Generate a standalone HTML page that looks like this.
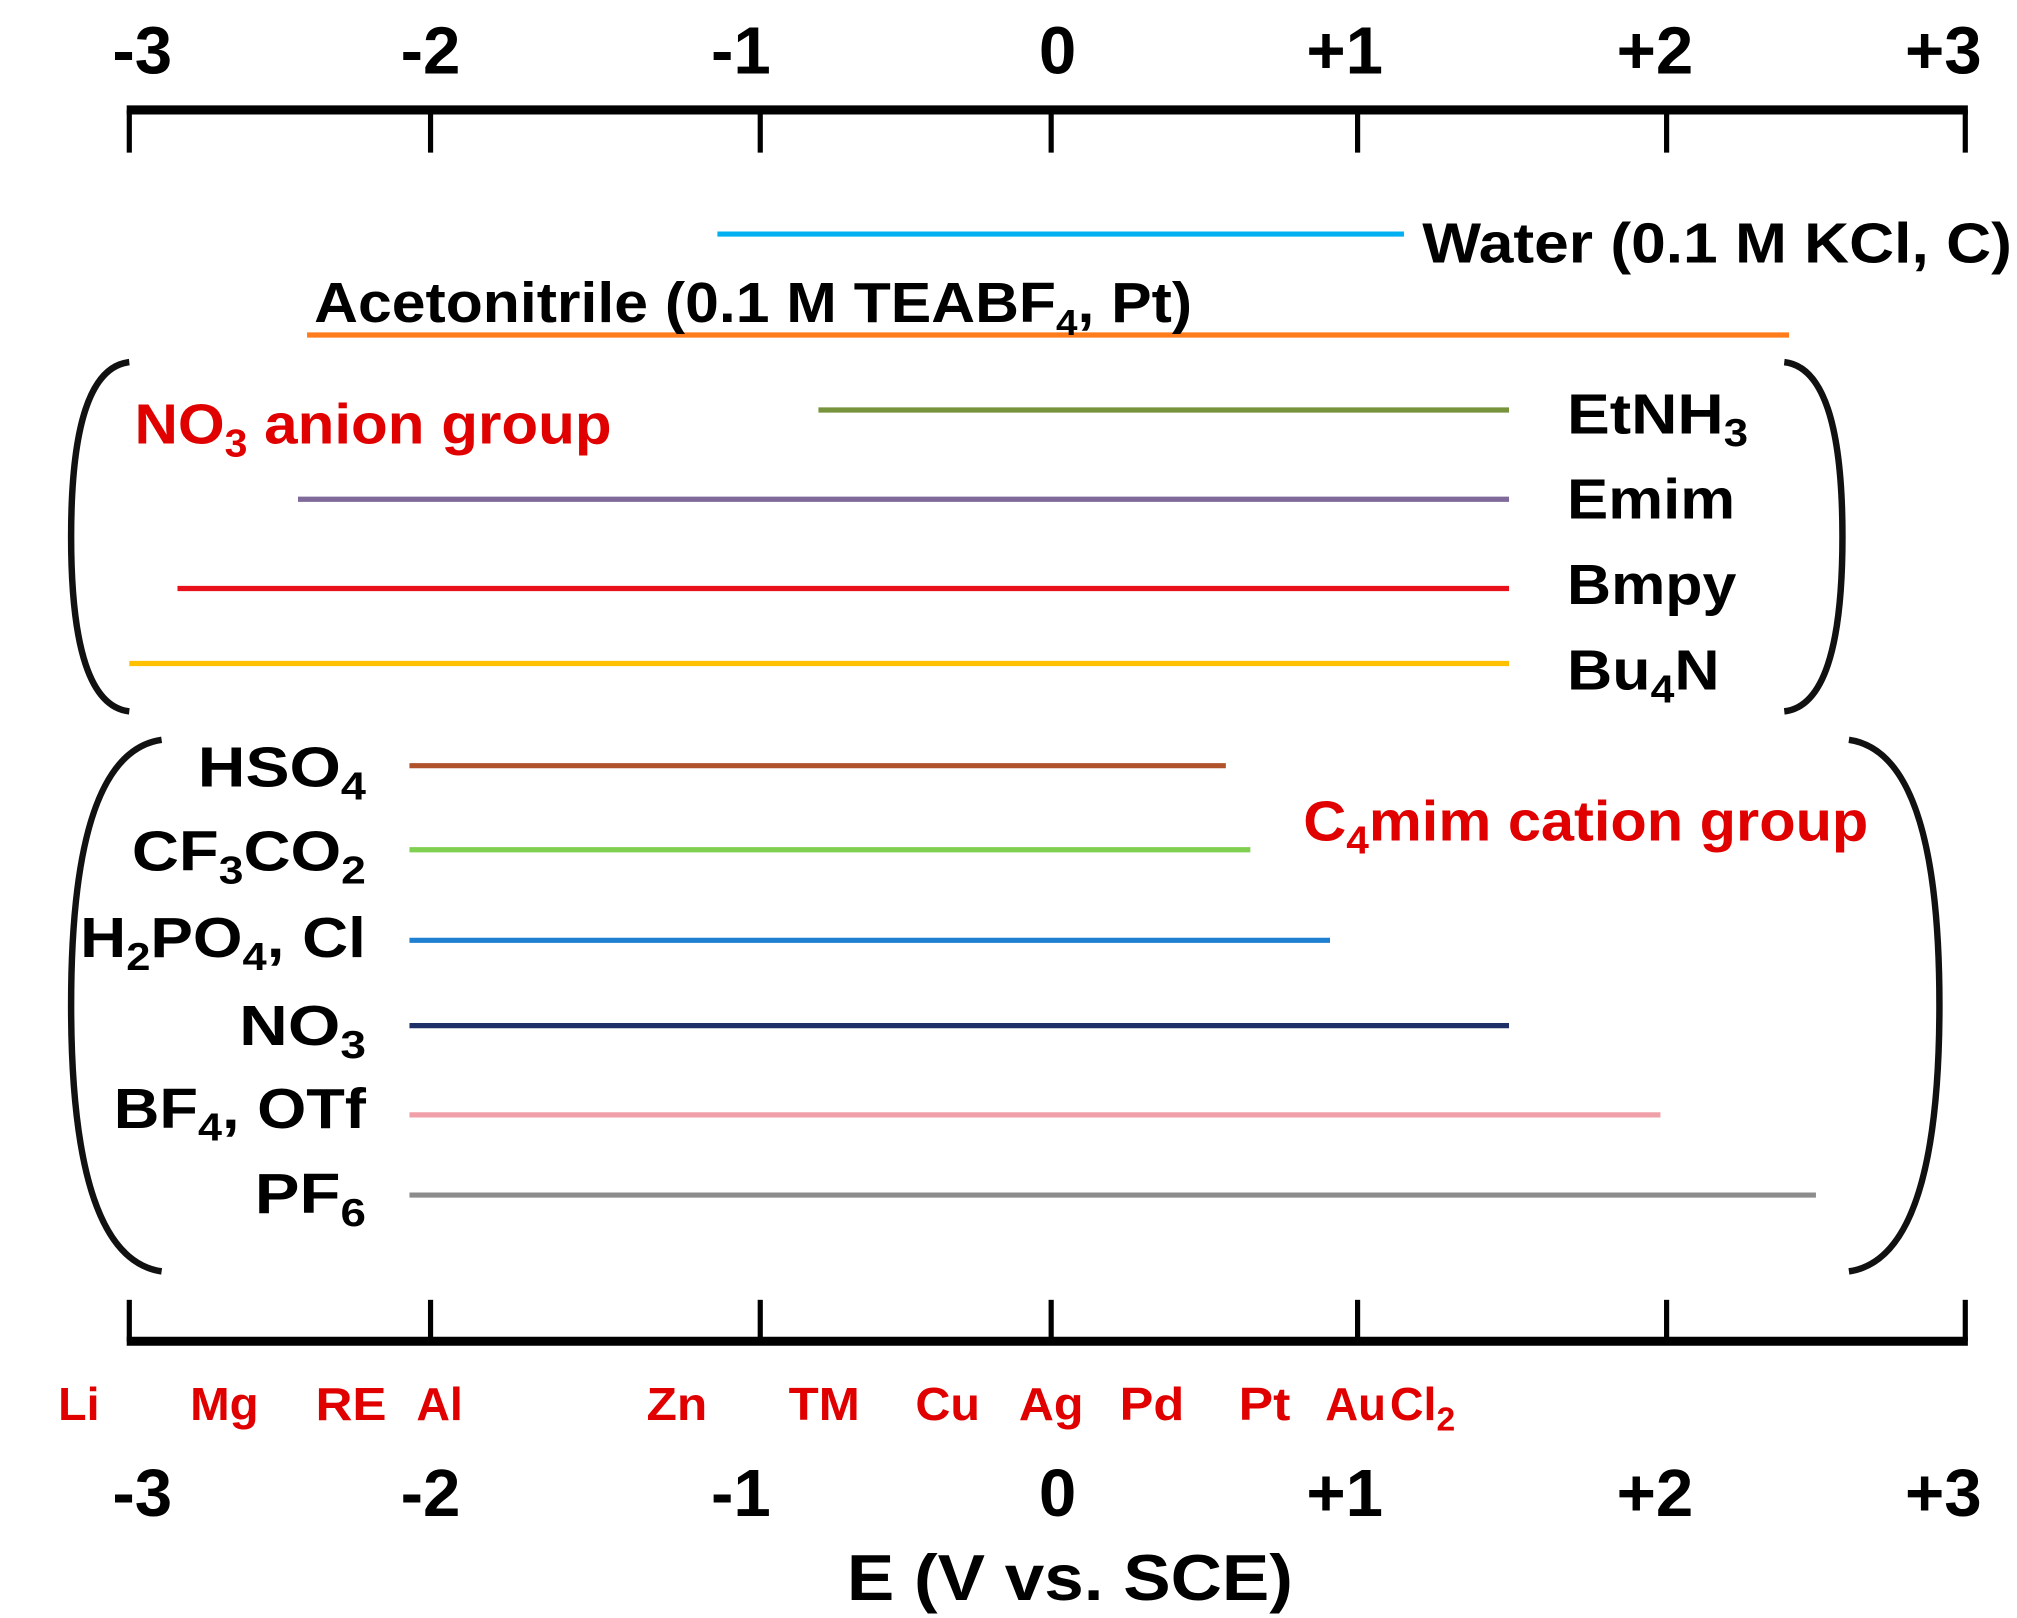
<!DOCTYPE html>
<html><head><meta charset="utf-8"><style>
html,body{margin:0;padding:0;background:#fff;}
svg{display:block;font-family:"Liberation Sans",Arial,sans-serif;}
</style></head><body>
<svg id="chart" width="2017" height="1618" viewBox="0 0 1560 1251" preserveAspectRatio="none" xmlns="http://www.w3.org/2000/svg">
<g id="axes"></g>
<g id="series"></g>
<g id="labels" font-size="44" fill="#000" font-weight="bold">
 <text x="1100" y="203" textLength="456" lengthAdjust="spacingAndGlyphs">Water (0.1 M KCl, C)</text>
 <text x="243" y="249" textLength="679" lengthAdjust="spacingAndGlyphs">Acetonitrile (0.1 M TEABF<tspan font-size="28" dy="10">4</tspan><tspan dy="-10">, Pt)</tspan></text>
 <text x="1212" y="335" textLength="140" lengthAdjust="spacingAndGlyphs">EtNH<tspan font-size="30" dy="10">3</tspan></text>
 <text x="1212" y="401" textLength="130" lengthAdjust="spacingAndGlyphs">Emim</text>
 <text x="1212" y="467" textLength="131" lengthAdjust="spacingAndGlyphs">Bmpy</text>
 <text x="1212" y="533" textLength="118" lengthAdjust="spacingAndGlyphs">Bu<tspan font-size="30" dy="10">4</tspan><tspan dy="-10">N</tspan></text>
 <text x="104" y="343" fill="#e00000" textLength="369" lengthAdjust="spacingAndGlyphs">NO<tspan font-size="30" dy="10">3</tspan><tspan dy="-10"> anion group</tspan></text>
 <text x="1008" y="650" fill="#e00000" textLength="437" lengthAdjust="spacingAndGlyphs">C<tspan font-size="30" dy="10">4</tspan><tspan dy="-10">mim cation group</tspan></text>
 <text x="153" y="608" textLength="130" lengthAdjust="spacingAndGlyphs">HSO<tspan font-size="30" dy="10">4</tspan></text>
 <text x="102" y="673" textLength="181" lengthAdjust="spacingAndGlyphs">CF<tspan font-size="30" dy="10">3</tspan><tspan dy="-10">CO</tspan><tspan font-size="30" dy="10">2</tspan></text>
 <text x="62" y="740" textLength="221" lengthAdjust="spacingAndGlyphs">H<tspan font-size="30" dy="10">2</tspan><tspan dy="-10">PO</tspan><tspan font-size="30" dy="10">4</tspan><tspan dy="-10">, Cl</tspan></text>
 <text x="185" y="808" textLength="98" lengthAdjust="spacingAndGlyphs">NO<tspan font-size="30" dy="10">3</tspan></text>
 <text x="88" y="872" textLength="195" lengthAdjust="spacingAndGlyphs">BF<tspan font-size="30" dy="10">4</tspan><tspan dy="-10">, OTf</tspan></text>
 <text x="197" y="938" textLength="86" lengthAdjust="spacingAndGlyphs">PF<tspan font-size="30" dy="10">6</tspan></text>
</g>
<g fill="none" stroke="#111" stroke-width="5">
 <path d="M100,280 Q55,285 55,415 Q55,545 100,550"/>
 <path d="M1380,280 Q1425,285 1425,415 Q1425,545 1380,550"/>
 <path d="M125,572 Q55,582 55,777 Q55,973 125,983"/>
 <path d="M1430,572 Q1500,582 1500,777 Q1500,973 1430,983"/>
</g>
<g font-size="36" font-weight="bold" fill="#e00000">
 <text x="45" y="1098">Li</text>
 <text x="147" y="1098" textLength="53" lengthAdjust="spacingAndGlyphs">Mg</text>
 <text x="244" y="1098" textLength="55" lengthAdjust="spacingAndGlyphs">RE</text>
 <text x="322" y="1098">Al</text>
 <text x="500" y="1098" textLength="47" lengthAdjust="spacingAndGlyphs">Zn</text>
 <text x="610" y="1098" textLength="55" lengthAdjust="spacingAndGlyphs">TM</text>
 <text x="708" y="1098" textLength="50" lengthAdjust="spacingAndGlyphs">Cu</text>
 <text x="788" y="1098" textLength="50" lengthAdjust="spacingAndGlyphs">Ag</text>
 <text x="866" y="1098" textLength="50" lengthAdjust="spacingAndGlyphs">Pd</text>
 <text x="958" y="1098" textLength="40" lengthAdjust="spacingAndGlyphs">Pt</text>
 <text x="1025" y="1098" textLength="47" lengthAdjust="spacingAndGlyphs">Au</text>
 <text x="1075" y="1098">Cl<tspan font-size="26" dy="8">2</tspan></text>
</g>
<text x="655" y="1237" font-size="50" font-weight="bold" textLength="345" lengthAdjust="spacingAndGlyphs">E (V vs. SCE)</text>
</svg>
<script>
const tickValues = [-3, -2, -1, 0, 1, 2, 3];
const tickLabels = ["-3", "-2", "-1", "0", "+1", "+2", "+3"];
const seriesNames = ["water","acetonitrile","etnh3","emim","bmpy","bu4n","hso4","cf3co2","h2po4-cl","no3","bf4-otf","pf6"];
const seriesStart = [-1.13, -2.41, -0.8, -2.44, -2.84, -3.0, -2.07, -2.07, -2.07, -2.07, -2.07, -2.07];
const seriesEnd = [1.15, 2.41, 1.49, 1.49, 1.49, 1.49, 0.57, 0.65, 0.91, 1.49, 1.98, 2.5];
const seriesColors = ["#00b0f0","#ff7b1c","#77933c","#7f6a9a","#e8101a","#ffc000","#b0532a","#7fcf50","#1f7fd0","#1f3068","#f0a0a8","#8c8c8c"];
const seriesRows = [181,259,317,386,455,513,592,657,727,793,862,924];

// axis calibration (tick pixel positions of the drawn axis)
const axisPx = [100, 333, 588, 813, 1050, 1289, 1520];
const labelShift = [10, 0, -15, 5, -10, -9, -17];
function xScale(v){
  if (v <= tickValues[0]) return axisPx[0] + (v - tickValues[0]) * (axisPx[1]-axisPx[0]);
  for (let i = 0; i < tickValues.length - 1; i++) {
    if (v <= tickValues[i+1]) {
      const t = (v - tickValues[i]) / (tickValues[i+1] - tickValues[i]);
      return axisPx[i] + t * (axisPx[i+1] - axisPx[i]);
    }
  }
  const n = tickValues.length - 1;
  return axisPx[n] + (v - tickValues[n]) * (axisPx[n]-axisPx[n-1]);
}
const NS = "http://www.w3.org/2000/svg";
const axes = document.getElementById("axes");
function mk(tag, attrs, parent){ const e = document.createElementNS(NS, tag); for (const k in attrs) e.setAttribute(k, attrs[k]); parent.appendChild(e); return e; }

[["top", 85, 118, 57], ["bottom", 1037, 1005, 1172]].forEach(([pos, lineY, tickEnd, labelY]) => {
  const l = mk("line", {x1: xScale(-3)-2, x2: xScale(3)+2, y1: lineY, y2: lineY, stroke: "#000", "stroke-width": 7}, axes);
  
  
  tickValues.forEach((v, i) => {
    const t = mk("line", {x1: xScale(v), x2: xScale(v), y1: lineY, y2: tickEnd, stroke: "#000", "stroke-width": 4}, axes);
    
    
    const tx = mk("text", {x: xScale(v) + labelShift[i], y: labelY, "font-size": 52, "font-weight": "bold", "text-anchor": "middle"}, axes);
    tx.textContent = tickLabels[i];
    
    
  });
});

const sg = document.getElementById("series");
seriesNames.forEach((n, i) => {
  const l = mk("line", {x1: xScale(seriesStart[i]), x2: xScale(seriesEnd[i]), y1: seriesRows[i], y2: seriesRows[i], stroke: seriesColors[i], "stroke-width": 4}, sg);
  
  
});
</script>
</body></html>
